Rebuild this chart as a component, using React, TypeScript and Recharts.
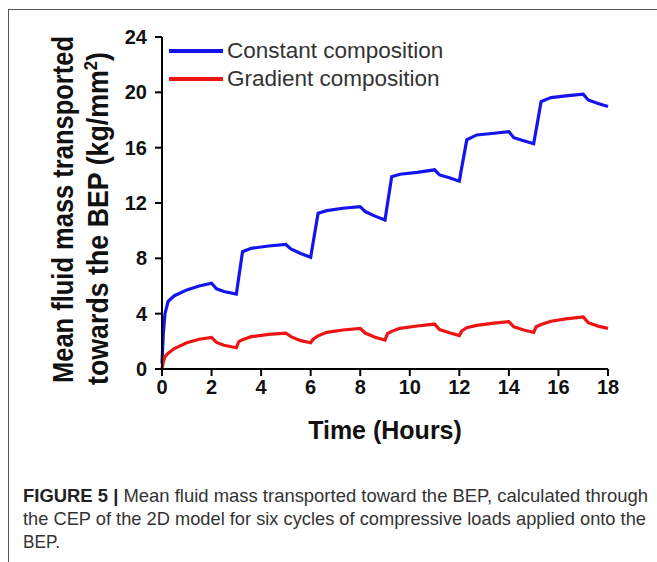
import React from 'react';
import { LineChart, Line, XAxis, YAxis, Legend } from 'recharts';

// hours (shared sample times for both curves)
const TIME_H = [
  0, 0.05, 0.12, 0.25, 0.5, 1, 1.5, 2, 2.2, 2.5, 3, 3.1, 3.25, 3.6, 4.3, 5, 5.2, 5.6, 6,
  6.1, 6.3, 6.65, 7.3, 8, 8.2, 8.6, 9, 9.1, 9.27, 9.6, 10.3, 11, 11.2, 11.6, 12,
  12.1, 12.3, 12.7, 13.4, 14, 14.2, 14.6, 15, 15.1, 15.3, 15.7, 16.3, 17, 17.2, 17.6, 18,
];

// kg/mm2
const CONSTANT_COMP = [
  0.4, 2.5, 4.0, 4.9, 5.3, 5.72, 6.0, 6.2, 5.8, 5.6, 5.42, 6.65, 8.48, 8.72, 8.89, 9.0, 8.68, 8.35, 8.07,
  9.15, 11.26, 11.45, 11.62, 11.74, 11.38, 11.05, 10.77, 11.95, 13.9, 14.08, 14.22, 14.4, 14.03, 13.82, 13.58,
  14.6, 16.56, 16.92, 17.04, 17.16, 16.72, 16.5, 16.28, 17.3, 19.33, 19.62, 19.74, 19.86, 19.45, 19.2, 18.97,
];

const GRADIENT_COMP = [
  0, 0.5, 0.89, 1.15, 1.48, 1.9, 2.15, 2.28, 1.92, 1.72, 1.54, 1.98, 2.12, 2.34, 2.5, 2.6, 2.34, 2.05, 1.9,
  2.15, 2.4, 2.65, 2.82, 2.94, 2.6, 2.3, 2.1, 2.55, 2.72, 2.94, 3.11, 3.25, 2.85, 2.62, 2.42,
  2.75, 2.98, 3.15, 3.32, 3.42, 3.05, 2.82, 2.64, 3.05, 3.22, 3.45, 3.62, 3.76, 3.35, 3.1, 2.94,
];

const X_TICKS = [0, 2, 4, 6, 8, 10, 12, 14, 16, 18];
const Y_TICKS = [0, 4, 8, 12, 16, 20, 24];
const SERIES_NAMES = ['Constant composition', 'Gradient composition'];
const SERIES_COLORS = ['#1414ee', '#ee1414'];

const data = TIME_H.map((t, i) => ({
  t,
  constant: CONSTANT_COMP[i],
  gradient: GRADIENT_COMP[i],
}));

const FONT = '"Liberation Sans", Arial, Helvetica, sans-serif';
const tickStyle = { fill: '#111', fontSize: 20, fontWeight: 700, fontFamily: FONT };

const LegendBox = () => (
  <div>
    {SERIES_NAMES.map((name, i) => (
      <div key={name} style={{ display: 'flex', alignItems: 'center', height: 28 }}>
        <svg width={54} height={8}>
          <line x1={0} y1={4} x2={54} y2={4} stroke={SERIES_COLORS[i]} strokeWidth={4} />
        </svg>
        <span style={{ marginLeft: 4, fontSize: 22.5, color: '#333', fontFamily: FONT, lineHeight: '28px', whiteSpace: 'nowrap' }}>
          {name}
        </span>
      </div>
    ))}
  </div>
);

export default function App() {
  return (
    <div style={{ position: 'absolute', left: 0, top: 0, width: 657, height: 562, background: '#fff', overflow: 'hidden' }}>
      {/* figure frame */}
      <div style={{ position: 'absolute', left: 8, top: 9, width: 660, height: 600, borderLeft: '1.5px solid #555', borderTop: '1.5px solid #555' }} />

      <div style={{ position: 'absolute', left: 0, top: 0 }}>
        <LineChart width={657} height={420} data={data} margin={{ top: 37, right: 49, left: 102, bottom: 21 }}>
          <XAxis
            dataKey="t"
            type="number"
            domain={[0, 18]}
            ticks={X_TICKS}
            interval={0}
            height={30}
            axisLine={{ stroke: '#000', strokeWidth: 2 }}
            tickLine={{ stroke: '#000', strokeWidth: 2 }}
            tickSize={7}
            tickMargin={4}
            tick={tickStyle}
          />
          <YAxis
            type="number"
            domain={[0, 24]}
            ticks={Y_TICKS}
            interval={0}
            width={60}
            axisLine={{ stroke: '#000', strokeWidth: 2 }}
            tickLine={{ stroke: '#000', strokeWidth: 2 }}
            tickSize={7}
            tickMargin={8}
            tick={tickStyle}
          />
          {/* horizontal + middle + center keeps the legend from shifting the plot area */}
          <Legend
            content={<LegendBox />}
            layout="horizontal"
            verticalAlign="middle"
            align="center"
            wrapperStyle={{ position: 'absolute', left: 169, top: 37, width: 'auto' }}
          />
          <Line
            type="linear"
            dataKey="constant"
            name={SERIES_NAMES[0]}
            stroke={SERIES_COLORS[0]}
            strokeWidth={3.2}
            dot={false}
            isAnimationActive={false}
          />
          <Line
            type="linear"
            dataKey="gradient"
            name={SERIES_NAMES[1]}
            stroke={SERIES_COLORS[1]}
            strokeWidth={3.2}
            dot={false}
            isAnimationActive={false}
          />
        </LineChart>
      </div>

      {/* axis titles and caption */}
      <svg width={657} height={562} style={{ position: 'absolute', left: 0, top: 0, pointerEvents: 'none' }}>
        <text
          transform="translate(73,383) rotate(-90)"
          fontFamily={FONT}
          fontWeight={700}
          fontSize={29}
          fill="#111"
          textLength={347}
          lengthAdjust="spacingAndGlyphs"
        >
          Mean fluid mass transported
        </text>
        <text
          transform="translate(108,385) rotate(-90)"
          fontFamily={FONT}
          fontWeight={700}
          fontSize={29}
          fill="#111"
          textLength={333}
          lengthAdjust="spacingAndGlyphs"
        >
          towards the BEP (kg/mm<tspan fontSize={18} dy={-11}>2</tspan><tspan dy={11}>)</tspan>
        </text>
        <text x={385} y={439} textAnchor="middle" fontFamily={FONT} fontWeight={700} fontSize={25} fill="#111">
          Time (Hours)
        </text>

        <text x={23} y={502} fontFamily={FONT} fontSize={19} fill="#333" textLength={625} lengthAdjust="spacingAndGlyphs">
          <tspan fontWeight={700} fill="#222">FIGURE 5 |</tspan> Mean fluid mass transported toward the BEP, calculated through
        </text>
        <text x={23} y={525} fontFamily={FONT} fontSize={19} fill="#333" textLength={623} lengthAdjust="spacingAndGlyphs">
          the CEP of the 2D model for six cycles of compressive loads applied onto the
        </text>
        <text x={23} y={548} fontFamily={FONT} fontSize={19} fill="#333" textLength={37} lengthAdjust="spacingAndGlyphs">
          BEP.
        </text>
      </svg>
    </div>
  );
}
